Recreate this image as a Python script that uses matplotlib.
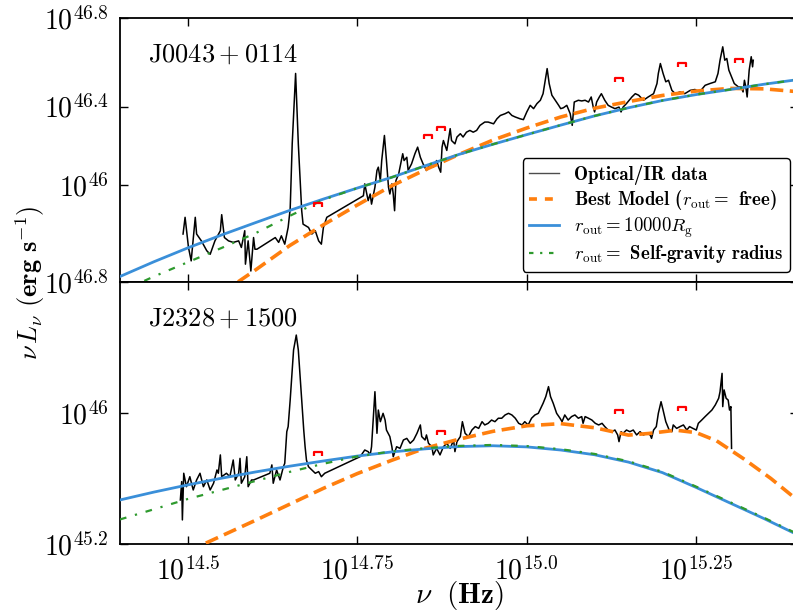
import matplotlib
matplotlib.use('Agg')
import matplotlib.pyplot as plt
from matplotlib.path import Path
from matplotlib.lines import Line2D

plt.rcParams['mathtext.fontset'] = 'cm'
plt.rcParams['font.family'] = 'serif'
plt.rcParams['font.serif'] = ['cmr10', 'DejaVu Serif']
plt.rcParams['axes.unicode_minus'] = False

# ---------------- data (log10 nu [Hz], log10 nuLnu [erg/s]) ----------------
top_spec_nu = [14.493,14.496,14.501,14.505,14.511,14.513,14.520,14.528,14.533,14.540,14.548,14.550,14.554,14.560,14.567,14.575,14.579,14.584,14.585,14.589,14.593,14.597,14.599,14.602,
               14.629,14.634,14.638,14.643,14.648,14.651,14.654,14.659,14.663,14.668,14.670,14.678,14.683,14.688,14.693,14.697,14.700,14.705,
               14.759,14.761,14.766,14.769,14.771,14.776,14.779,14.781,14.784,14.786,14.790,14.793,14.796,14.798,14.801,14.803,14.805,14.807,14.811,14.815,14.817,14.819,14.823,14.825,
               14.830,14.835,14.839,14.843,14.847,14.852,14.857,14.862,14.867,14.870,14.873,14.875,14.877,14.882,14.887,14.889,14.894,14.897,14.902,14.906,14.911,14.916,14.921,14.926,14.931,14.938,
               14.943,14.951,14.956,14.961,14.968,14.973,14.978,14.983,14.990,14.995,15.000,15.005,15.010,15.015,15.020,15.024,15.028,15.030,15.033,15.037,15.042,15.047,15.050,15.054,
               15.059,15.064,15.067,15.070,15.076,15.081,15.086,15.091,15.095,15.098,15.100,15.103,15.107,15.110,15.115,15.120,15.125,15.130,15.136,15.139,15.142,15.147,15.155,15.160,
               15.165,15.172,15.179,15.187,15.192,15.194,15.197,15.201,15.205,15.209,15.214,15.219,15.226,15.233,15.241,15.248,15.255,15.263,15.270,15.278,
               15.282,15.285,15.289,15.292,15.295,15.298,15.302,15.306,15.312,15.316,15.319,15.321,15.323,15.325,15.328,15.331,15.333,15.334]
top_spec_L = [45.818,45.894,45.757,45.696,45.894,45.818,45.787,45.742,45.726,45.787,45.833,45.906,45.802,45.787,45.780,45.787,45.757,45.833,45.681,45.787,45.650,45.802,45.749,45.749,
              45.802,45.780,45.810,45.772,45.848,45.932,46.228,46.548,46.228,45.924,45.863,45.848,45.818,45.833,45.787,45.772,45.848,45.894,
              45.992,46.046,45.970,46.000,45.954,46.031,46.107,46.122,46.061,46.152,46.266,46.152,46.031,46.000,46.046,46.000,45.924,46.061,46.091,46.152,46.183,46.152,46.167,46.107,
              46.137,46.183,46.213,46.167,46.137,46.107,46.137,46.122,46.152,46.122,46.099,46.213,46.243,46.198,46.297,46.243,46.228,46.259,46.274,46.259,46.281,46.289,46.281,46.289,46.312,46.327,
              46.327,46.319,46.342,46.357,46.365,46.373,46.357,46.350,46.342,46.338,46.373,46.403,46.388,46.411,46.426,46.456,46.532,46.570,46.502,46.449,46.426,46.403,46.388,46.392,
              46.403,46.365,46.312,46.418,46.426,46.423,46.426,46.418,46.441,46.395,46.373,46.418,46.441,46.456,46.426,46.403,46.395,46.388,46.395,46.373,46.395,46.411,46.441,46.456,
              46.449,46.426,46.441,46.456,46.502,46.548,46.593,46.548,46.510,46.517,46.471,46.456,46.464,46.456,46.471,46.475,46.464,46.494,46.502,46.510,
              46.548,46.608,46.669,46.608,46.616,46.563,46.532,46.502,46.487,46.487,46.464,46.517,46.487,46.441,46.563,46.624,46.578,46.608]

bot_spec_nu = [14.489,14.491,14.492,14.494,14.498,14.503,14.508,14.513,14.518,14.523,14.528,14.533,14.538,14.543,14.545,14.548,14.550,14.557,14.562,14.567,14.570,14.575,14.577,14.579,14.584,14.587,14.589,14.594,14.597,
               14.621,14.624,14.626,14.631,14.636,14.641,14.643,14.646,14.648,14.651,14.656,14.660,14.663,14.668,14.671,14.673,14.675,14.678,14.683,14.688,14.693,14.697,14.702,
               14.754,14.756,14.761,14.766,14.769,14.771,14.776,14.779,14.781,14.784,14.788,14.791,14.793,14.798,14.801,14.803,14.808,
               14.813,14.818,14.823,14.828,14.833,14.838,14.843,14.845,14.850,14.852,14.855,14.860,14.862,14.867,14.872,14.877,14.882,14.887,14.892,14.894,
               14.897,14.902,14.905,14.909,14.914,14.919,14.924,14.929,14.934,14.938,14.943,14.948,14.953,14.958,14.963,14.968,14.973,14.978,14.983,14.988,
               14.993,14.997,15.002,15.007,15.012,15.017,
               15.024,15.028,15.032,15.035,15.039,15.044,15.049,15.052,15.056,15.061,15.066,15.071,15.076,15.081,15.083,15.086,15.091,15.096,15.101,15.106,
               15.111,15.115,15.120,15.125,15.130,15.134,15.136,15.139,15.142,15.147,15.152,15.157,15.162,15.167,15.172,15.177,15.182,15.184,15.187,15.191,
               15.194,15.198,15.201,15.205,15.210,15.214,15.216,15.221,15.226,15.231,15.236,15.240,15.245,15.250,15.253,15.258,15.263,15.268,15.273,15.278,
               15.283,15.285,15.288,15.289,15.291,15.294,15.297,15.299,15.301,15.302]
bot_spec_L = [45.469,45.581,45.347,45.632,45.550,45.611,45.530,45.591,45.632,45.550,45.591,45.530,45.571,45.652,45.632,45.744,45.611,45.632,45.611,45.713,45.591,45.632,45.723,45.571,45.611,45.733,45.550,45.591,45.591,
              45.632,45.683,45.571,45.652,45.591,45.672,45.693,45.886,45.917,46.079,46.385,46.476,46.385,46.079,45.896,45.794,45.713,45.672,45.652,45.632,45.642,45.611,45.632,
              45.733,45.744,45.774,45.764,45.744,45.794,46.130,45.876,46.018,45.947,45.998,45.957,45.896,45.856,45.794,45.733,45.794,
              45.784,45.835,45.845,45.815,45.835,45.876,45.927,45.856,45.835,45.866,45.815,45.794,45.744,45.784,45.744,45.794,45.815,45.784,45.835,45.764,
              45.825,45.856,45.947,45.876,45.856,45.896,45.917,45.906,45.947,45.927,45.937,45.957,45.947,45.968,45.968,45.988,45.998,45.988,45.968,45.937,
              45.927,45.947,45.927,45.968,45.988,45.998,
              46.059,46.100,46.161,46.100,46.059,45.998,45.968,45.947,45.988,45.957,45.978,45.988,45.968,45.978,45.937,45.978,45.968,45.957,45.937,45.927,
              45.937,45.917,45.896,45.886,45.896,45.866,45.825,45.886,45.876,45.896,45.886,45.896,45.866,45.886,45.866,45.876,45.866,45.845,45.896,45.917,
              45.998,46.069,46.018,45.947,45.896,45.886,45.927,45.906,45.917,45.927,45.896,45.917,45.906,45.896,45.937,45.957,45.978,45.998,46.018,46.049,
              46.090,46.130,46.242,46.039,46.141,46.090,46.079,46.018,46.039,45.784]

# model curves
top_blue_nu = [14.40,14.45,14.50,14.55,14.60,14.65,14.70,14.75,14.80,14.85,14.90,14.95,15.00,15.05,15.10,15.15,15.20,15.25,15.30,15.35,15.40]
top_blue_L = [45.625,45.692,45.755,45.814,45.870,45.925,45.977,46.027,46.075,46.128,46.180,46.226,46.270,46.313,46.355,46.392,46.425,46.452,46.475,46.499,46.520]
top_green_L = [45.555,45.625,45.690,45.755,45.822,45.900,45.974,46.027,46.075,46.128,46.180,46.226,46.270,46.313,46.355,46.392,46.425,46.452,46.475,46.499,46.520]
top_orange_nu = [14.55,14.60,14.65,14.70,14.75,14.80,14.85,14.90,14.95,15.00,15.05,15.10,15.15,15.20,15.25,15.30,15.35,15.40]
top_orange_L = [45.550,45.655,45.765,45.860,45.950,46.036,46.110,46.180,46.245,46.300,46.350,46.390,46.420,46.448,46.468,46.480,46.478,46.465]

bot_blue_nu = [14.40,14.45,14.50,14.55,14.60,14.65,14.70,14.75,14.80,14.85,14.90,14.95,15.00,15.05,15.10,15.15,15.20,15.25,15.30,15.35,15.40]
bot_blue_L = [45.469,45.517,45.561,45.602,45.640,45.675,45.707,45.737,45.762,45.781,45.795,45.800,45.793,45.774,45.745,45.700,45.636,45.545,45.450,45.355,45.255]
bot_green_L = [45.350,45.412,45.475,45.530,45.585,45.640,45.690,45.735,45.765,45.785,45.799,45.805,45.798,45.779,45.750,45.705,45.641,45.550,45.455,45.360,45.260]
bot_orange_nu = [14.50,14.60,14.70,14.75,14.80,14.85,14.90,14.95,15.00,15.05,15.10,15.15,15.18,15.22,15.25,15.28,15.32,15.36,15.40]
bot_orange_L = [45.155,45.345,45.540,45.630,45.710,45.785,45.840,45.888,45.922,45.935,45.910,45.865,45.875,45.895,45.880,45.830,45.720,45.600,45.465]

# red bracket markers
top_mark_nu = [14.692,14.854,14.873,15.136,15.229,15.313]
top_mark_L = [45.951,46.257,46.294,46.517,46.586,46.604]
bot_mark_nu = [14.692,14.873,15.136,15.229]
bot_mark_L = [45.750,45.878,46.006,46.024]

xticks = [14.5, 14.75, 15.0, 15.25]
xticklabels = [r'$10^{14.5}$', r'$10^{14.75}$', r'$10^{15.0}$', r'$10^{15.25}$']
top_yticks = [45.6, 46.04, 46.397, 46.8]
top_yticklabels = [r'$10^{46.8}$', r'$10^{46}$', r'$10^{46.4}$', r'$10^{46.8}$']
bot_yticks = [45.2, 46.0, 46.8]
bot_yticklabels = [r'$10^{45.2}$', r'$10^{46}$', '']

names = [r'$\rm J0043+0114$', r'$\rm J2328+1500$']

# ---------------- figure ----------------
C_BLUE = '#3a8fd9'
C_ORANGE = '#ff7f0e'
C_GREEN = '#2e9a2e'

bracket = Path([(-1, -0.55), (-1, 0.55), (1, 0.55), (1, -0.55)],
               [Path.MOVETO, Path.LINETO, Path.LINETO, Path.LINETO])

fig = plt.figure(figsize=(7.93, 6.14), dpi=100)
ax1 = fig.add_axes([120/793, 1-282/614, 678/793, 264/614])
ax2 = fig.add_axes([120/793, 1-544/614, 678/793, 262/614])

panels = [
    (ax1, top_spec_nu, top_spec_L, top_blue_nu, top_blue_L, top_green_L, top_orange_nu, top_orange_L,
     top_mark_nu, top_mark_L, (45.6, 46.8), top_yticks, top_yticklabels),
    (ax2, bot_spec_nu, bot_spec_L, bot_blue_nu, bot_blue_L, bot_green_L, bot_orange_nu, bot_orange_L,
     bot_mark_nu, bot_mark_L, (45.2, 46.8), bot_yticks, bot_yticklabels),
]

for i, (ax, snu, sL, bnu, bL, gL, onu, oL, mnu, mL, ylim, yt, ytl) in enumerate(panels):
    ax.plot(snu, sL, color='black', lw=1.1, zorder=2)
    ax.plot(onu, oL, color=C_ORANGE, lw=2.6, ls='--', dashes=(3.7, 1.8), zorder=3)
    ax.plot(bnu, bL, color=C_BLUE, lw=2.0, zorder=4)
    ax.plot(bnu, gL, color=C_GREEN, lw=1.6, ls=(0, (3, 4, 1, 4)), zorder=5)
    ax.plot(mnu, mL, ls='none', marker=bracket, markersize=6, mfc='none',
            mec='red', mew=1.6, zorder=6)
    ax.set_xlim(14.4, 15.4)
    ax.set_ylim(*ylim)
    ax.set_xticks(xticks)
    ax.set_yticks(yt)
    ax.set_yticklabels(ytl)
    ax.tick_params(direction='in', top=True, right=True, length=6, width=1,
                   labelsize=20, pad=8)
    for sp in ax.spines.values():
        sp.set_linewidth(1.3)
    ax.text(0.041, 0.835, names[i], transform=ax.transAxes, fontsize=19, va='baseline')

ax1.set_xticklabels([])
ax2.set_xticklabels(xticklabels)
ax2.tick_params(axis='x', pad=9)

handles = [
    Line2D([], [], color='black', lw=1.0, alpha=0.7),
    Line2D([], [], color=C_ORANGE, lw=2.6, ls='--', dashes=(2.2, 2.2)),
    Line2D([], [], color=C_BLUE, lw=2.0),
    Line2D([], [], color=C_GREEN, lw=1.6, ls=(0, (2, 3, 1, 3))),
]
labels = ['Optical/IR data',
          r'Best Model ($r_{\rm out} =$ free)',
          r'$r_{\rm out} = 10000R_{\rm g}$',
          r'$r_{\rm out} =$ Self-gravity radius']
leg = ax1.legend(handles, labels, loc='lower right', bbox_to_anchor=(0.988, 0.038),
                 borderaxespad=0, prop={'family': 'cmb10', 'size': 13.5},
                 fancybox=True, framealpha=1, edgecolor='black', handlelength=1.6,
                 handletextpad=0.8, labelspacing=0.18, borderpad=0.35)
leg.get_frame().set_linewidth(1.0)

fig.text(30/793, 1-283/614, r'$\nu\, L_{\nu}\ \mathbf{(erg\ s}^{-1}\mathbf{)}$',
         rotation=90, ha='center', va='center', fontsize=19)
fig.text(459/793, 1-596/614, r'$\nu\ \ \mathbf{(Hz)}$', ha='center', va='center', fontsize=21)

fig.savefig('out.png', dpi=100)
